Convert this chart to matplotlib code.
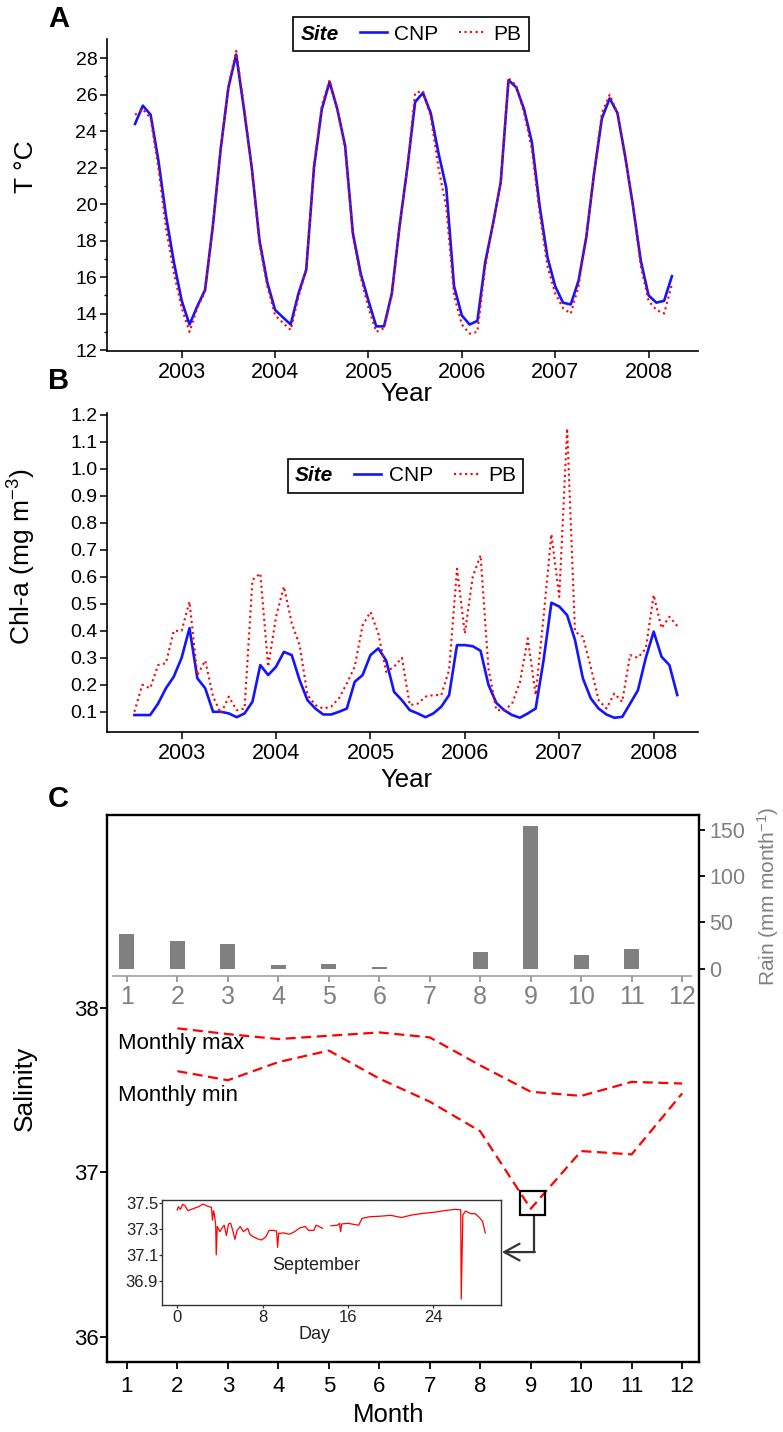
import numpy as np
import matplotlib
matplotlib.use('Agg')
import matplotlib.pyplot as plt
from matplotlib.patches import Rectangle

plt.rcParams['font.family'] = ['Liberation Sans', 'DejaVu Sans']
plt.rcParams['mathtext.fontset'] = 'custom'
plt.rcParams['mathtext.rm'] = 'Liberation Sans'
plt.rcParams['mathtext.it'] = 'Liberation Sans:italic'
plt.rcParams['mathtext.bf'] = 'Liberation Sans:bold'

# monthly series, July 2002 - April 2008
start_year = 2002.5
temp_cnp = [24.4, 25.4, 24.9, 22.4, 19.3, 16.8, 14.7, 13.4, 14.4, 15.3, 18.8, 23.0,
            26.4, 28.2, 25.2, 22.0, 18.0, 15.7, 14.2, 13.8, 13.4, 15.1, 16.4, 22.0,
            25.2, 26.7, 25.2, 23.2, 18.4, 16.2, 14.7, 13.3, 13.3, 15.1, 18.8, 22.0,
            25.6, 26.1, 25.0, 22.8, 20.9, 15.5, 13.9, 13.4, 13.6, 16.8, 18.9, 21.2,
            26.8, 26.4, 25.2, 23.4, 19.9, 17.1, 15.5, 14.6, 14.5, 15.8, 18.2, 21.7,
            24.7, 25.8, 25.0, 22.6, 19.9, 16.9, 15.0, 14.6, 14.7, 16.05]
temp_pb = [24.9, 25.2, 24.7, 22.0, 18.6, 16.2, 14.3, 13.0, 14.3, 15.2, 18.8, 23.0,
           26.5, 28.4, 25.4, 22.0, 17.8, 15.5, 13.9, 13.5, 13.1, 14.9, 16.4, 22.2,
           25.4, 26.8, 25.2, 23.0, 18.2, 16.0, 14.3, 13.0, 13.2, 15.0, 18.8, 22.0,
           26.1, 26.2, 24.8, 22.0, 19.8, 15.0, 13.4, 12.9, 13.0, 16.5, 18.9, 21.2,
           26.9, 26.5, 25.0, 23.0, 19.5, 16.6, 15.1, 14.3, 14.0, 15.5, 18.2, 21.7,
           25.0, 26.0, 25.0, 22.6, 19.9, 16.6, 14.7, 14.2, 14.0, 15.6]
chl_cnp = [0.088, 0.088, 0.088, 0.13, 0.187, 0.23, 0.30, 0.41, 0.224, 0.187, 0.10, 0.10,
           0.094, 0.08, 0.094, 0.137, 0.273, 0.236, 0.267, 0.322, 0.31, 0.217, 0.143, 0.112,
           0.09, 0.09, 0.10, 0.112, 0.211, 0.236, 0.31, 0.335, 0.29, 0.174, 0.143, 0.106,
           0.094, 0.08, 0.094, 0.119, 0.162, 0.347, 0.347, 0.343, 0.326, 0.20, 0.133, 0.106,
           0.088, 0.078, 0.094, 0.112, 0.29, 0.504, 0.49, 0.458, 0.366, 0.224, 0.15, 0.112,
           0.09, 0.078, 0.081, 0.13, 0.18, 0.30, 0.397, 0.304, 0.273, 0.162]
chl_pb = [0.10, 0.20, 0.187, 0.273, 0.28, 0.40, 0.40, 0.508, 0.236, 0.29, 0.156, 0.094,
          0.156, 0.106, 0.112, 0.588, 0.613, 0.267, 0.452, 0.564, 0.428, 0.347, 0.162, 0.125,
          0.112, 0.119, 0.15, 0.205, 0.267, 0.42, 0.47, 0.39, 0.248, 0.267, 0.30, 0.125,
          0.13, 0.156, 0.162, 0.162, 0.255, 0.63, 0.39, 0.60, 0.68, 0.26, 0.106, 0.106,
          0.13, 0.21, 0.372, 0.162, 0.45, 0.758, 0.526, 1.15, 0.397, 0.378, 0.267, 0.143,
          0.112, 0.168, 0.137, 0.31, 0.30, 0.335, 0.533, 0.41, 0.452, 0.418]
year_ticks = [2003, 2004, 2005, 2006, 2007, 2008]

# panel C
months = [1, 2, 3, 4, 5, 6, 7, 8, 9, 10, 11, 12]
rain = [38, 30, 27, 4, 5, 1.5, 0, 18, 154, 15, 21, 0]
sal_months = [2, 3, 4, 5, 6, 7, 8, 9, 10, 11, 12]
sal_max = [37.875, 37.84, 37.81, 37.83, 37.85, 37.82, 37.65, 37.49, 37.465, 37.55, 37.54]
sal_min = [37.615, 37.56, 37.67, 37.74, 37.57, 37.43, 37.25, 36.78, 37.13, 37.11, 37.48]

# September daily record (inset)
sep_day = [0.0, 0.1, 0.3, 0.5, 0.7, 1.0, 1.5, 2.0, 2.4, 2.8, 3.2, 3.3, 3.4, 3.5, 3.6, 3.65,
           3.75, 4.0, 4.2, 4.4, 4.6, 4.8, 5.0, 5.2, 5.4, 5.6, 5.9, 6.2, 6.6, 6.8, 7.0, 7.5,
           7.9, 8.3, 8.6, 9.0, 9.3, 9.4, 9.5, 10.0, 10.5, 11.0, 11.5, 12.0, 12.3, 12.8, 13.0,
           13.3, 13.6, 14.0, 14.4, 15.0, 15.2, 15.3, 15.4, 16.0, 16.5, 17.0, 17.3, 18.0, 19.0,
           20.0, 21.0, 22.0, 23.0, 24.0, 25.0, 26.0, 26.55, 26.6, 26.75, 27.0, 27.5, 27.9,
           28.3, 28.6, 28.85]
sep_sal = [37.448, 37.474, 37.453, 37.492, 37.484, 37.443, 37.459, 37.474, 37.495, 37.479,
           37.469, 37.37, 37.443, 37.40, 37.33, 37.10, 37.32, 37.28, 37.31, 37.33, 37.25,
           37.34, 37.345, 37.29, 37.22, 37.29, 37.32, 37.28, 37.306, 37.26, 37.246, 37.225,
           37.215, 37.24, 37.29, 37.29, 37.285, 37.158, 37.267, 37.27, 37.26, 37.28, 37.31,
           37.32, 37.29, 37.29, 37.33, 37.32, 37.306, np.nan, 37.326, 37.33, 37.345, 37.28,
           37.34, 37.345, 37.337, 37.33, 37.383, 37.396, 37.40, 37.407, 37.39, 37.41, 37.422,
           37.43, 37.443, 37.453, 37.45, 36.756, 37.41, 37.44, 37.42, 37.42, 37.39, 37.36, 37.27]

t = start_year + np.arange(len(temp_cnp)) / 12

blue = '#1414ff'
fig = plt.figure(figsize=(7.83, 14.32), dpi=100)


def site_legend(ax, lines, center):
    leg = ax.legend(lines, ['CNP', 'PB'], title='Site', ncol=2, loc='center',
                    bbox_to_anchor=center, bbox_transform=fig.transFigure,
                    fancybox=False, edgecolor='black', framealpha=1,
                    fontsize=15, title_fontsize=15, handlelength=1.3,
                    handletextpad=0.35, columnspacing=1.0, borderpad=0.35)
    leg.get_title().set_fontweight('bold')
    leg.get_title().set_fontstyle('italic')
    leg.get_frame().set_linewidth(1.2)
    # put the title on the same row as the entries
    vp = leg._legend_box
    title_box, hp = vp.get_children()
    vp._children = [hp]
    hp._children.insert(0, title_box)
    return leg


def style_ts(ax):
    for s in ['top', 'right']:
        ax.spines[s].set_visible(False)
    for s in ['left', 'bottom']:
        ax.spines[s].set_linewidth(1.2)
    ax.set_xticks(year_ticks)
    ax.tick_params(direction='out', length=5, width=1.1, pad=2)
    ax.tick_params(axis='x', labelsize=15.5, pad=3)
    ax.tick_params(axis='y', labelsize=14)


# ---- A ----
axA = fig.add_axes([0.1367, 0.7549, 0.7548, 0.2177])
lA1, = axA.plot(t, temp_cnp, color=blue, lw=1.9, zorder=2)
lA2, = axA.plot(t, temp_pb, color='red', lw=1.5, ls=':', zorder=3)
axA.set_xlim(2002.2, 2008.53)
axA.set_ylim(11.95, 29.04)
axA.set_yticks(np.arange(12, 29, 2))
axA.set_yticks(np.arange(13, 29, 2), minor=True)
axA.tick_params(axis='y', which='minor', length=2.5, width=1.0)
style_ts(axA)
axA.set_ylabel('T °C', fontsize=19)
axA.yaxis.set_label_coords(-0.116, 0.59)
axA.set_xlabel('Year', fontsize=18.5)
axA.xaxis.set_label_coords(0.507, -0.099)
site_legend(axA, [lA1, lA2], (411 / 783, 1 - 34.2 / 1432))

# ---- B ----
axB = fig.add_axes([0.1367, 0.4888, 0.7548, 0.2226])
lB1, = axB.plot(t, chl_cnp, color=blue, lw=1.9, zorder=2)
lB2, = axB.plot(t, chl_pb, color='red', lw=1.5, ls=':', zorder=3)
axB.set_xlim(2002.21, 2008.47)
axB.set_ylim(0.025, 1.206)
axB.set_yticks(np.round(np.arange(0.1, 1.25, 0.1), 1))
axB.yaxis.set_major_formatter(matplotlib.ticker.FormatStrFormatter('%.1f'))
style_ts(axB)
axB.set_ylabel('Chl-a (mg m$^{-3}$)', fontsize=19)
axB.yaxis.set_label_coords(-0.117, 0.55)
axB.set_xlabel('Year', fontsize=18.5)
axB.xaxis.set_label_coords(0.507, -0.113)
site_legend(axB, [lB1, lB2], (405.5 / 783, 1 - 475.9 / 1432))

# ---- C: salinity ----
axC = fig.add_axes([0.1363, 0.0489, 0.7568, 0.382])
dash = (0, (4.5, 2.5))
axC.plot(sal_months, sal_max, color='red', ls=dash, lw=1.6)
axC.plot(sal_months, sal_min, color='red', ls=dash, lw=1.6)
axC.set_xlim(0.6, 12.34)
axC.set_ylim(35.85, 39.17)
axC.set_xticks(months)
axC.set_yticks([36, 37, 38])
for s in axC.spines.values():
    s.set_linewidth(1.7)
axC.tick_params(direction='out', length=5, width=1.3, labelsize=16, pad=5)
axC.tick_params(axis='y', pad=1)
axC.set_xlabel('Month', fontsize=18.5)
axC.xaxis.set_label_coords(0.475, -0.0757)
axC.set_ylabel('Salinity', fontsize=19)
axC.yaxis.set_label_coords(-0.118, 0.5)
axC.text(0.814, 37.747, 'Monthly max', fontsize=16, va='baseline', ha='left')
axC.text(0.814, 37.433, 'Monthly min', fontsize=16, va='baseline', ha='left')

# box around the September minimum and arrow to the inset
sep_min = sal_min[sal_months.index(9)]
axC.add_patch(Rectangle((8.78, sep_min - 0.04), 0.51, 0.15, fill=False,
                        ec='black', lw=1.6, zorder=4))
axC.plot([9.07, 9.07], [sep_min - 0.04, 36.517], color='#333333', lw=1.6,
         solid_capstyle='butt')
axC.annotate('', xy=(8.43, 36.517), xytext=(9.082, 36.517),
             arrowprops=dict(arrowstyle='->,head_length=0.55,head_width=0.3',
                             lw=1.6, color='#333333', mutation_scale=20,
                             shrinkA=0, shrinkB=0))

# ---- C: rain bars ----
axR = fig.add_axes([0.1363, 0.3186, 0.7568, 0.1123])
axR.patch.set_visible(False)
axR.bar(months, rain, width=0.3, color='#808080', edgecolor='none')
axR.set_xlim(0.6, 12.34)
axR.set_ylim(-7.6, 166.3)
for s in ['top', 'left', 'right']:
    axR.spines[s].set_visible(False)
axR.spines['bottom'].set_color('#a0a0a0')
axR.spines['bottom'].set_linewidth(1.2)
axR.spines['bottom'].set_bounds(0.73, 12.17)
axR.set_xticks(months)
axR.yaxis.tick_right()
axR.set_yticks([0, 50, 100, 150])
axR.tick_params(axis='y', color='black', labelcolor='#808080', length=4.3,
                width=1.3, labelsize=15.5, direction='out', pad=3)
axR.tick_params(axis='x', color='#808080', labelcolor='#808080', length=4,
                width=1.1, labelsize=18, direction='out', pad=3)
axR.yaxis.set_label_position('right')
axR.set_ylabel('Rain (mm month$^{-1}$)', color='#808080', fontsize=15)
axR.yaxis.set_label_coords(1.095, 0.496)

# ---- C: inset ----
axI = fig.add_axes([0.2073, 0.0887, 0.4322, 0.0733])
axI.plot(sep_day, sep_sal, color='red', lw=0.9)
axI.set_xlim(-1.4, 30.3)
axI.set_ylim(36.71, 37.526)
axI.set_xticks([0, 8, 16, 24])
axI.set_yticks([36.9, 37.1, 37.3, 37.5])
axI.yaxis.set_major_formatter(matplotlib.ticker.FormatStrFormatter('%.1f'))
for s in axI.spines.values():
    s.set_color('#333333')
    s.set_linewidth(1.0)
axI.tick_params(direction='out', length=2.5, width=0.9, color='#333333',
                labelcolor='#222222', labelsize=12, pad=1)
axI.tick_params(axis='y', pad=0.5)
axI.set_xlabel('Day', fontsize=13, color='#222222')
axI.xaxis.set_label_coords(0.451, -0.2)
axI.text(13, 37.02, 'September', ha='center', va='center', fontsize=13, color='#222222')

# panel letters
for letter, ytop in [('A', 5), ('B', 367), ('C', 785)]:
    fig.text(48 / 783, 1 - ytop / 1432, letter, fontsize=21, fontweight='bold',
             ha='left', va='top')

fig.savefig('out.png', dpi=100)
